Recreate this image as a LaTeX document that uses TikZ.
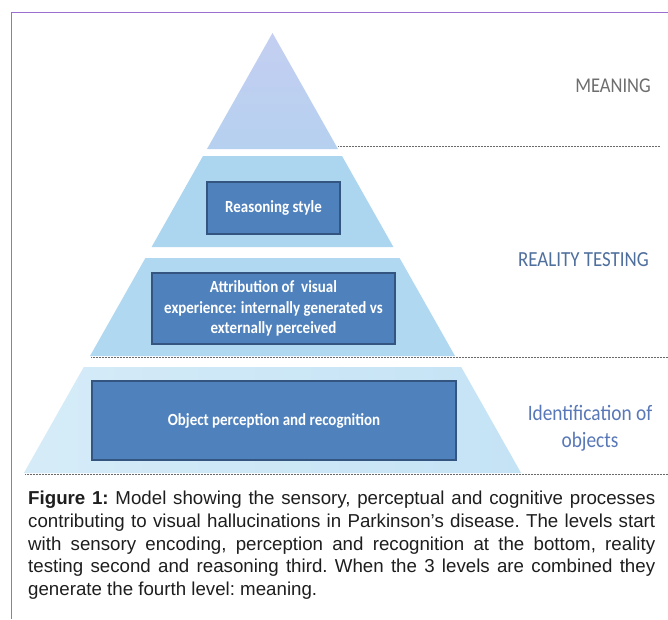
\documentclass[tikz,border=0pt]{standalone}
\usepackage{fontspec}
\setmainfont{Liberation Sans}
\newfontfamily\calib[FakeStretch=0.88]{Carlito}
\definecolor{frame}{HTML}{9B6FCF}
\definecolor{topfill}{HTML}{C4CFF1}
\definecolor{topfillb}{HTML}{B6D0F0}
\definecolor{bandA}{HTML}{ACD6F0}
\definecolor{bandB}{HTML}{B0D8F1}
\definecolor{bandC}{HTML}{C4E3F5}
\definecolor{boxblue}{HTML}{4F81BD}
\definecolor{boxedge}{HTML}{34557F}
\definecolor{dotgray}{HTML}{6A6A6A}
\definecolor{meangray}{HTML}{6E6E6E}
\definecolor{realblue}{HTML}{4F6F9D}
\definecolor{identblue}{HTML}{5878B8}
\definecolor{captext}{HTML}{1E1E1E}
\begin{document}
\begin{tikzpicture}[x=1pt,y=-1pt,
  levelbox/.style={draw=boxedge, fill=boxblue, line width=1.4pt, text=white,
    font=\calib\bfseries\fontsize{17}{20.5}\selectfont, align=center, inner sep=0pt},
  sidelabel/.style={font=\calib\fontsize{21.5}{27}\selectfont, align=center, inner sep=0pt},
  dotline/.style={draw=dotgray, line width=0.8pt, dash pattern=on 0.7pt off 0.8pt}]
\useasboundingbox (0,0) rectangle (668,619);
\fill[white] (0,0) rectangle (668,619);
% frame
\draw[frame, line width=1.5pt] (11.5,619) -- (11.5,12.5) -- (668,12.5);
% pyramid
\shade[top color=topfill, bottom color=topfillb] (272.5,33) -- (338,149) -- (207,149) -- cycle;
\fill[bandA] (203,156) -- (342,156) -- (393.4,247) -- (151.6,247) -- cycle;
\fill[bandB] (145.4,258) -- (399.6,258) -- (455,356) -- (90,356) -- cycle;
\shade[left color=bandC!70!white, right color=bandC] (83.8,367) -- (461.2,367) -- (521.1,473) -- (23.9,473) -- cycle;
% dotted lines
\coordinate (d1a) at (338,146.5); \coordinate (d1b) at (660,146.5);
\coordinate (d2a) at (91,357.5);  \coordinate (d2b) at (668,357.5);
\coordinate (d3a) at (25,474.5);  \coordinate (d3b) at (668,474.5);
\draw[dotline] (d1a) -- (d1b);
\draw[dotline] (d2a) -- (d2b);
\draw[dotline] (d3a) -- (d3b);
% boxes
\node[levelbox, minimum width=133pt, minimum height=52pt] (rs) at (273.5,208) {Reasoning style};
\node[levelbox, minimum width=243pt, minimum height=71pt] (att) at (273.5,308.5)
  {Attribution of~ visual\\experience: internally generated vs\\externally perceived};
\node[levelbox, minimum width=364pt, minimum height=79pt] (obj) at (274,420.5) {Object perception and recognition};
% side labels
\node[sidelabel, text=meangray, font=\calib\fontsize{21}{27}\selectfont] (mean) at (613,86) {MEANING};
\node[sidelabel, text=realblue] (real) at (583.5,260) {REALITY TESTING};
\node[sidelabel, text=identblue, font=\calib\fontsize{22}{27}\selectfont] (ident) at (590,428) {Identification of\\objects};
% caption
\node[anchor=north west, inner sep=0pt, text width=627pt, align=justify, text=captext,
  font=\frenchspacing\fontsize{18.7}{22.7}\selectfont] (cap) at (28,491)
  {\textbf{Figure 1:} Model showing the sensory, perceptual and cognitive processes\linebreak
   contributing to visual hallucinations in Parkinson’s disease. The levels start\linebreak
   with sensory encoding, perception and recognition at the bottom, reality\linebreak
   testing second and reasoning third. When the 3 levels are combined they\linebreak
   generate the fourth level: meaning.};
\end{tikzpicture}
\end{document}
